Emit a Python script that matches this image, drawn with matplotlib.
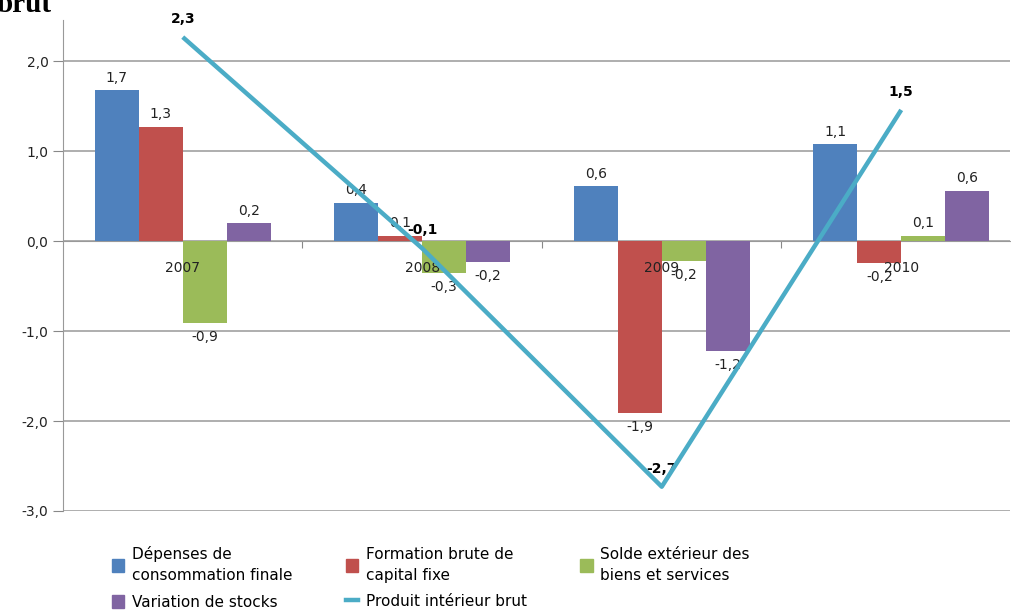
import matplotlib
matplotlib.use("Agg")
import matplotlib.pyplot as plt
from matplotlib.patches import Patch
from matplotlib.lines import Line2D
import numpy as np

years = ["2007", "2008", "2009", "2010"]
depenses = [1.68, 0.43, 0.61, 1.08]
fbcf = [1.27, 0.06, -1.91, -0.24]
solde = [-0.91, -0.35, -0.22, 0.06]
stocks = [0.20, -0.23, -1.22, 0.56]
pib = [2.27, -0.08, -2.73, 1.46]

series_names = ["Dépenses de\nconsommation finale", "Formation brute de\ncapital fixe",
                "Solde extérieur des\nbiens et services", "Variation de stocks"]
pib_name = "Produit intérieur brut"
colors = ["#4F81BD", "#C0504D", "#9BBB59", "#8064A2"]
line_color = "#4BACC6"


def fmt(v):
    return f"{v:.1f}".replace(".", ",")


fig = plt.figure(figsize=(10.12, 6.13), dpi=100)
ax = fig.add_axes([63 / 1012, 1 - 511 / 613, (1010 - 63) / 1012, 491 / 613])

x = np.arange(len(years))
width = 44 / 240
bars_data = [depenses, fbcf, solde, stocks]
for i, vals in enumerate(bars_data):
    pos = x + (i - 1.5) * width
    ax.bar(pos, vals, width, color=colors[i], zorder=3)
    for px, v in zip(pos, vals):
        if v >= 0:
            ax.annotate(fmt(v), (px, v), xytext=(0, 4), textcoords="offset points",
                        ha="center", va="bottom", fontsize=10, color="#222222")
        else:
            ax.annotate(fmt(v), (px, v), xytext=(0, -5), textcoords="offset points",
                        ha="center", va="top", fontsize=10, color="#222222")

ax.plot(x, pib, color=line_color, lw=3.2, zorder=4, solid_capstyle="butt")
for px, v in zip(x, pib):
    ax.annotate(fmt(v), (px, v), xytext=(0, 8), textcoords="offset points",
                ha="center", va="bottom", fontsize=10, fontweight="bold", color="black")

for px, y in zip(x, years):
    ax.text(px, -0.3, y, ha="center", va="center", fontsize=10, color="#222222")

ax.set_xlim(-0.5, 3.5 - 11 / 240)
ax.set_ylim(-3.0, 2.46)
ax.set_yticks([-3, -2, -1, 0, 1, 2])
ax.set_yticklabels([fmt(t) for t in [-3, -2, -1, 0, 1, 2]], fontsize=10, color="#222222")
ax.yaxis.grid(True, color="#999999", lw=1.1, zorder=0)
ax.set_xticks([0.5, 1.5, 2.5])
ax.set_xticklabels([])
ax.tick_params(axis="x", direction="out", length=5, color="#888888")
ax.tick_params(axis="y", direction="out", length=7, color="#888888")
ax.spines["bottom"].set_position(("data", 0))
ax.spines["bottom"].set_color("#999999")
ax.spines["left"].set_color("#999999")
ax.spines["top"].set_visible(False)
ax.spines["right"].set_visible(False)
ax.set_axisbelow(True)

handles = [Patch(color=colors[0], label=series_names[0]),
           Patch(color=colors[3], label=series_names[3]),
           Patch(color=colors[1], label=series_names[1]),
           Line2D([0], [0], color=line_color, lw=3.2, label=pib_name),
           Patch(color=colors[2], label=series_names[2])]
leg = fig.legend(handles=handles, ncol=3, loc="upper left", bbox_to_anchor=(106 / 1012, 1 - 540 / 613),
                 frameon=False, fontsize=11, handlelength=0.8, handleheight=0.9, handletextpad=0.5,
                 columnspacing=3.5, labelspacing=0.75, borderaxespad=0)
for t in leg.get_texts():
    t.set_linespacing(1.5)

fig.text(-0.003, 1 - 12 / 613, "brut", fontsize=21, fontweight="bold", family="Liberation Serif",
         va="baseline", ha="left")

fig.savefig("out.png", dpi=100)
